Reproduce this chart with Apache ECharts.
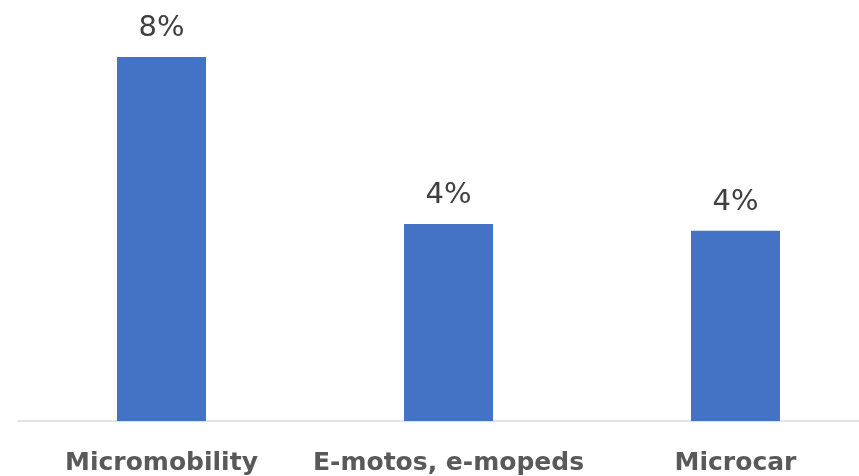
<!DOCTYPE html>
<html>
<head>
<meta charset="utf-8">
<script src="https://cdn.jsdelivr.net/npm/echarts@6/dist/echarts.min.js"></script>
<style>
  html, body { margin: 0; padding: 0; background: #fff; overflow: hidden; width: 859px; height: 476px; }
  /* plot area runs past the right edge in the original, so the container is wider than the window */
  #chart { width: 879px; height: 476px; }
</style>
</head>
<body>
<div id="chart"></div>
<script>
// Chart data
const categories = ['Micromobility', 'E-motos, e-mopeds', 'Microcar'];
const shares = [8, 4.33, 4.18];   // percent, labels shown rounded

const chart = echarts.init(document.getElementById('chart'));

const option = {
    animation: false,
    grid: { left: 18, top: 57, bottom: 55, right: 0 },
    xAxis: {
        type: 'category',
        data: categories,
        axisTick: { show: false },
        axisLine: { lineStyle: { color: '#d9d9d9', width: 1.5 } },
        axisLabel: {
            interval: 0,
            margin: 30,
            color: '#595959',
            fontSize: 25,
            fontWeight: 'bold',
            fontFamily: 'DejaVu Sans, sans-serif'
        }
    },
    yAxis: {
        type: 'value',
        min: 0,
        max: 8,
        show: false
    },
    series: [{
        type: 'bar',
        data: shares,
        barWidth: '31%',
        itemStyle: { color: '#4472c4' },
        label: {
            show: true,
            position: 'top',
            distance: 14,
            color: '#404040',
            fontSize: 29,
            fontFamily: 'DejaVu Sans, sans-serif',
            formatter: p => Math.round(p.value) + '%'
        }
    }]
};

chart.setOption(option);
</script>
</body>
</html>
